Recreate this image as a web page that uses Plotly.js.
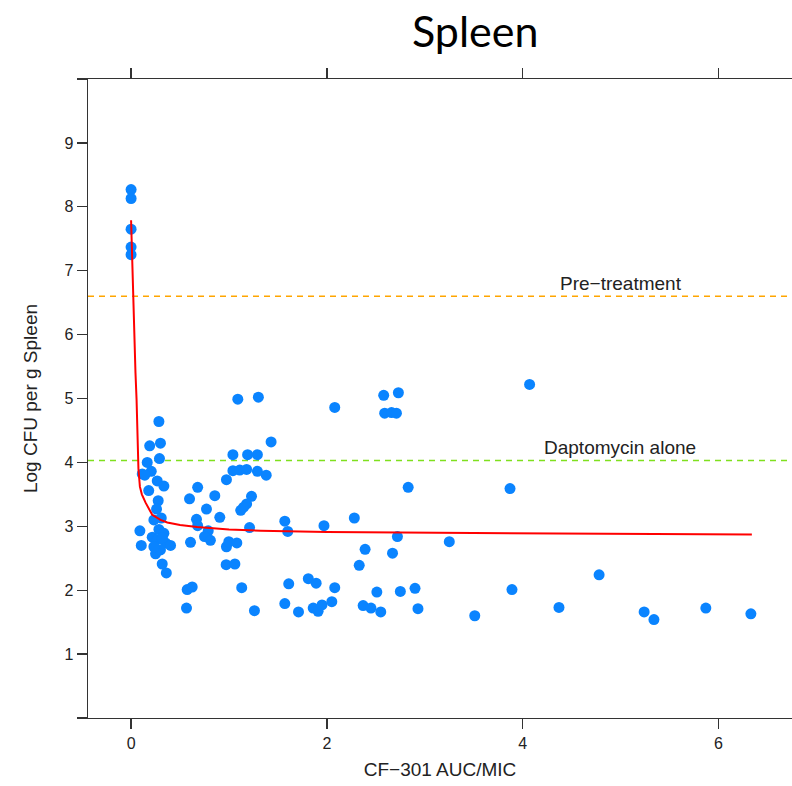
<!DOCTYPE html>
<html>
<head>
<meta charset="utf-8">
<script src="https://cdn.plot.ly/plotly-3.0.1.min.js"></script>
<style>html,body{margin:0;padding:0;background:#fff;}#chart{width:792px;height:786px;}</style>
</head>
<body>
<div id="chart"></div>
<script>
// Observed data: CF-301 AUC/MIC vs Log CFU per g Spleen
const aucMic = [
  0, 0, 0, 0, 0,
  0.284, 0.19, 0.30, 0.29, 0.165, 0.114, 0.206, 0.267, 0.335, 0.18, 0.277, 0.26, 0.233, 0.308,
  0.09, 0.104, 0.216, 0.284, 0.335, 0.267, 0.352, 0.403, 0.25, 0.30, 0.318, 0.233, 0.318, 0.36, 0.14,
  0.597, 0.68, 0.855, 0.77, 0.668, 0.68, 0.906, 0.788, 0.75, 0.81, 0.607, 0.974, 0.998, 1.08,
  0.971, 1.06, 1.13, 0.573, 0.624, 0.566, 1.26,
  1.04, 1.19, 1.29, 0.974, 1.04, 1.11, 1.18, 1.29, 1.38, 1.23, 1.18, 1.15, 1.12, 1.21, 1.09, 1.30, 1.43,
  2.08, 2.58, 2.73, 2.59, 2.66, 2.71, 2.83, 1.57, 1.60, 1.97, 2.28, 2.39, 2.33, 2.67, 2.72,
  1.61, 1.81, 1.89, 2.08, 2.51, 2.75, 1.57, 1.71, 1.86, 1.91, 1.95, 2.05, 2.37, 2.45, 2.55,
  4.07, 3.87, 3.25, 2.90, 3.89, 2.93, 3.51, 4.37, 4.78, 5.24, 5.34, 5.87, 6.33
];
const logCfu = [
  8.27, 8.13, 7.65, 7.37, 7.25,
  4.64, 4.26, 4.30, 4.06, 4.00, 3.82, 3.86, 3.71, 3.63, 3.56, 3.40, 3.27, 3.10, 3.13,
  2.93, 2.70, 2.83, 2.95, 2.89, 2.79, 2.74, 2.70, 2.57, 2.63, 2.82, 2.68, 2.41, 2.27, 3.80,
  3.43, 3.61, 3.48, 3.27, 3.11, 3.01, 3.14, 2.93, 2.84, 2.78, 2.75, 2.68, 2.76, 2.74,
  2.40, 2.41, 2.04, 2.01, 2.05, 1.72, 1.68,
  4.12, 4.12, 4.12, 3.73, 3.87, 3.88, 3.89, 3.86, 3.80, 3.47, 3.35, 3.30, 3.25, 2.98, 4.99, 5.02, 4.32,
  4.86, 5.05, 5.09, 4.77, 4.78, 4.77, 3.61, 3.08, 2.92, 3.01, 3.13, 2.64, 2.39, 2.58, 2.84,
  2.10, 2.18, 2.11, 2.04, 1.97, 1.98, 1.79, 1.66, 1.72, 1.67, 1.77, 1.82, 1.76, 1.72, 1.66,
  5.22, 3.59, 2.76, 2.03, 2.01, 1.71, 1.60, 1.73, 2.24, 1.66, 1.54, 1.72, 1.63
];
// Fitted curve
const fitX = [0, 0.01, 0.022, 0.035, 0.045, 0.056, 0.065, 0.075, 0.09, 0.11, 0.148, 0.216, 0.3, 0.37, 0.5, 0.675, 1.0, 1.32, 2.0, 3.0, 4.28, 5.3, 6.34];
const fitY = [7.79, 7.2, 6.6, 5.9, 5.4, 4.98, 4.3, 3.9, 3.62, 3.5, 3.37, 3.18, 3.1, 3.06, 3.02, 2.99, 2.95, 2.93, 2.91, 2.90, 2.88, 2.875, 2.87];
// Reference levels
const refLevels = [6.6, 4.03];
const refLabels = ["Pre\u2212treatment", "Daptomycin alone"];
const refColors = ["#FFA500", "#7FE01E"];
const refLabelX = [5.0, 4.99];
const xTicks = [0, 2, 4, 6];
const yTicks = [0, 1, 2, 3, 4, 5, 6, 7, 8, 9, 10];
const yTickText = ["", "1", "2", "3", "4", "5", "6", "7", "8", "9", ""];

const axisColor = "#333333";
const textFam = "Liberation Sans, Arial, sans-serif";
const tickFont = {family: textFam, size: 16, color: "#222"};

const traces = [
  {x: aucMic, y: logCfu, type: "scatter", mode: "markers",
   marker: {color: "#0A84FF", size: 11, line: {width: 0}}, hoverinfo: "x+y", showlegend: false},
  {x: fitX, y: fitY, type: "scatter", mode: "lines",
   line: {color: "#FF0000", width: 2}, showlegend: false}
];

const shapes = refLevels.map((lv, i) => ({
  type: "line", xref: "paper", x0: 0, x1: 1, yref: "y", y0: lv, y1: lv,
  line: {color: refColors[i], width: 1.3, dash: "6px,5px"}, layer: "below"
}));
const annotations = refLevels.map((lv, i) => ({
  x: refLabelX[i], y: lv, xref: "x", yref: "y", text: refLabels[i], showarrow: false,
  xanchor: "center", yanchor: "bottom", yshift: 0,
  font: {family: textFam, size: 19, color: "#222"}
}));

const layout = {
  width: 792, height: 786,
  margin: {l: 88, r: 0, t: 79, b: 68},
  paper_bgcolor: "#fff", plot_bgcolor: "#fff",
  title: {text: "Spleen", x: 0.6, xref: "container", y: 0.959, yref: "container",
          xanchor: "center", yanchor: "middle",
          font: {family: "Lato, Carlito, sans-serif", size: 43, color: "#000"}},
  xaxis: {range: [-0.44, 6.75], tickvals: xTicks, showgrid: false, zeroline: false,
          showline: true, linecolor: axisColor, linewidth: 1.3, mirror: "ticks",
          ticks: "outside", ticklen: 10, tickwidth: 1.3, tickcolor: axisColor,
          tickfont: tickFont,
          title: {text: "CF\u2212301 AUC/MIC", standoff: 12,
                  font: {family: textFam, size: 19, color: "#222"}}},
  yaxis: {range: [0, 10], tickvals: yTicks, ticktext: yTickText, showgrid: false, zeroline: false,
          showline: true, linecolor: axisColor, linewidth: 1.3, mirror: false,
          ticks: "outside", ticklen: 10, tickwidth: 1.3, tickcolor: axisColor,
          tickfont: tickFont,
          title: {text: "Log CFU per g Spleen", standoff: 22,
                  font: {family: textFam, size: 19, color: "#222"}}},
  shapes: shapes,
  annotations: annotations,
  showlegend: false
};

Plotly.newPlot("chart", traces, layout, {staticPlot: true, displayModeBar: false});
</script>
</body>
</html>
